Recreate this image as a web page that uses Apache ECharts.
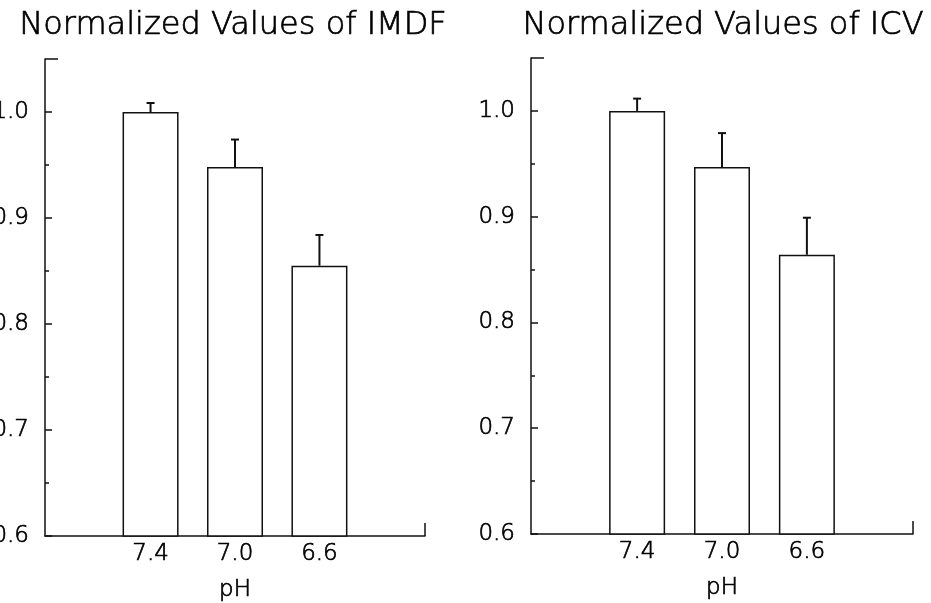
<!DOCTYPE html>
<html>
<head>
<meta charset="utf-8">
<style>html,body{margin:0;padding:0;background:#fff;}#chart{width:931px;height:603px;}</style>
<script src="https://cdn.jsdelivr.net/npm/echarts@6/dist/echarts.min.js"></script>
</head>
<body>
<div id="chart"></div>
<script>
// ---- data ----
const categories = ['7.4', '7.0', '6.6'];
const imdfValues = [1.000, 0.948, 0.855];
const imdfErrors = [0.0085, 0.026, 0.029];
const icvValues = [1.000, 0.947, 0.864];
const icvErrors = [0.0116, 0.032, 0.035];
const titles = ['Normalized Values of IMDF', 'Normalized Values of ICV'];
const yMajorTicks = [0.6, 0.7, 0.8, 0.9, 1.0];
const yMinorTicks = [0.65, 0.75, 0.85, 0.95];
const xAxisName = 'pH';

const FONT = 'DejaVu Sans';
const INK = '#111';
const TXT = {fontFamily: FONT, fontWeight: 200, color: '#000', textBorderColor: '#000', textBorderWidth: 0.7};
const Y_MIN = 0.6, Y_MAX = 1.05;
const X_MIN = -0.25, X_MAX = 4.25;

const chart = echarts.init(document.getElementById('chart'), null, {renderer: 'canvas'});

const panelBoxes = [
  {left: 45, right: 506, top: 59, bottom: 67},
  {left: 531, right: 18, top: 58, bottom: 69}
];
const titleCenters = [228, 718];
const panels = [
  {values: imdfValues, errors: imdfErrors},
  {values: icvValues, errors: icvErrors}
];

const grids = [], xAxes = [], yAxes = [], series = [], titleComps = [];

function gridOf(box) {
  return Object.assign({containLabel: false, outerBoundsMode: 'none'}, box);
}
function hiddenX(g) {
  return {type: 'value', gridIndex: g, min: X_MIN, max: X_MAX, show: false};
}
function tickOnlyY(g, len, vals) {
  return {
    type: 'value', gridIndex: g, position: 'left', offset: 0, min: Y_MIN, max: Y_MAX,
    axisLine: {show: false, onZero: false},
    axisTick: {show: true, inside: true, length: len, customValues: vals, lineStyle: {color: INK, width: 1.5}},
    axisLabel: {show: false}, splitLine: {show: false}
  };
}

panels.forEach((p, k) => {
  const box = panelBoxes[k];
  const g = grids.length;
  grids.push(gridOf(box), gridOf(box), gridOf(box));
  titleComps.push({
    text: titles[k], left: titleCenters[k], top: 5, textAlign: 'center',
    textStyle: Object.assign({fontSize: 32}, TXT)
  });
  const xi = xAxes.length;
  xAxes.push({
    type: 'value', gridIndex: g, min: X_MIN, max: X_MAX,
    axisLine: {show: true, onZero: false, lineStyle: {color: INK, width: 1.5}},
    axisTick: {show: true, inside: true, length: 13, customValues: [X_MAX], lineStyle: {color: INK, width: 1.5}},
    axisLabel: Object.assign({
      show: true, customValues: categories.map((c, i) => i + 1),
      formatter: v => categories[Math.round(v) - 1] || '',
      fontSize: 23, margin: 7
    }, TXT),
    splitLine: {show: false},
    name: xAxisName, nameLocation: 'middle', nameGap: 43,
    nameTextStyle: Object.assign({fontSize: 23}, TXT)
  });
  xAxes.push(hiddenX(g + 1), hiddenX(g + 2));
  const yi = yAxes.length;
  yAxes.push({
    type: 'value', gridIndex: g, position: 'left', offset: 0, min: Y_MIN, max: Y_MAX,
    axisLine: {show: true, onZero: false, lineStyle: {color: INK, width: 1.5}},
    axisTick: {show: true, inside: true, length: 7, customValues: yMajorTicks, lineStyle: {color: INK, width: 1.5}},
    axisLabel: Object.assign({show: true, customValues: yMajorTicks, formatter: v => v.toFixed(1),
      fontSize: 23, margin: 16}, TXT),
    splitLine: {show: false}
  });
  yAxes.push(tickOnlyY(g + 1, 4, yMinorTicks), tickOnlyY(g + 2, 13, [Y_MAX]));
  series.push({
    type: 'bar', xAxisIndex: xi, yAxisIndex: yi, barWidth: 56, clip: true,
    itemStyle: {color: '#fff', borderColor: INK, borderWidth: 1.5},
    data: p.values.map((v, i) => [i + 1, v]),
    animation: false
  });
  series.push({
    type: 'custom', xAxisIndex: xi, yAxisIndex: yi,
    data: p.values.map((v, i) => [i + 1, v, v + p.errors[i]]),
    renderItem: (params, api) => {
      const x = api.value(0);
      const lo = api.coord([x, api.value(1)]);
      const hi = api.coord([x, api.value(2)]);
      const cap = 4;
      return {
        type: 'group',
        children: [
          {type: 'line', shape: {x1: lo[0], y1: lo[1], x2: hi[0], y2: hi[1]}, style: {stroke: INK, lineWidth: 2}},
          {type: 'line', shape: {x1: hi[0] - cap, y1: hi[1], x2: hi[0] + cap, y2: hi[1]}, style: {stroke: INK, lineWidth: 2}}
        ]
      };
    },
    animation: false, z: 5
  });
});

chart.setOption({
  backgroundColor: '#fff',
  animation: false,
  title: titleComps,
  grid: grids,
  xAxis: xAxes,
  yAxis: yAxes,
  series: series
});
</script>
</body>
</html>
